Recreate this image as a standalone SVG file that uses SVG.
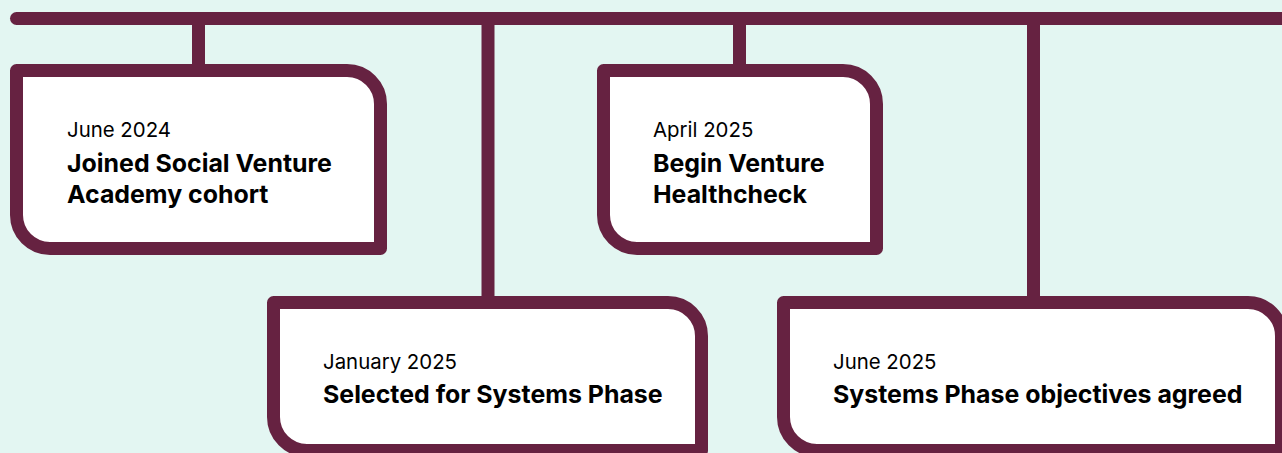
<svg xmlns="http://www.w3.org/2000/svg" width="1282" height="453" viewBox="0 0 1282 453">
<style>
.bg{fill:#e3f6f2}
.ln{stroke:#662241;stroke-width:13;fill:none;stroke-linecap:butt}
.box{fill:#ffffff;stroke:#662241;stroke-width:13;stroke-linejoin:round}
.date{font-family:Inter,"Liberation Sans",sans-serif;font-size:20.4px;font-weight:400;fill:#000}
.title{font-family:Inter,"Liberation Sans",sans-serif;font-size:24.9px;font-weight:700;fill:#000}
</style>
<rect class="bg" x="0" y="0" width="1282" height="453"/>
<g id="connectors">
<line class="ln" x1="16.5" y1="18.5" x2="1290" y2="18.5" style="stroke-linecap:round"/>
<line class="ln" x1="198.5" y1="20" x2="198.5" y2="70"/>
<line class="ln" x1="488" y1="20" x2="488" y2="302"/>
<line class="ln" x1="739.5" y1="20" x2="739.5" y2="70"/>
<line class="ln" x1="1033.5" y1="20" x2="1033.5" y2="302"/>
</g>
<g id="node1">
<path class="box" d="M16.5 70.5 H347 A33.5 33.5 0 0 1 380.5 104 V248.5 H50 A33.5 33.5 0 0 1 16.5 215 Z"/>
<text class="date" x="67" y="137">June 2024</text>
<text class="title" x="67" y="172">Joined Social Venture</text>
<text class="title" x="67" y="203">Academy cohort</text>
</g>
<g id="node2">
<path class="box" d="M273.5 302.5 H668 A33.5 33.5 0 0 1 701.5 336 V450.5 H307 A33.5 33.5 0 0 1 273.5 417 Z"/>
<text class="date" x="323" y="369">January 2025</text>
<text class="title" x="323" y="403">Selected for Systems Phase</text>
</g>
<g id="node3">
<path class="box" d="M603.5 70.5 H843 A33.5 33.5 0 0 1 876.5 104 V248.5 H637 A33.5 33.5 0 0 1 603.5 215 Z"/>
<text class="date" x="653" y="137">April 2025</text>
<text class="title" x="653" y="172">Begin Venture</text>
<text class="title" x="653" y="203">Healthcheck</text>
</g>
<g id="node4">
<path class="box" d="M783.5 302.5 H1248 A33.5 33.5 0 0 1 1281.5 336 V450.5 H817 A33.5 33.5 0 0 1 783.5 417 Z"/>
<text class="date" x="833" y="369">June 2025</text>
<text class="title" x="833" y="403">Systems Phase objectives agreed</text>
</g>
</svg>
